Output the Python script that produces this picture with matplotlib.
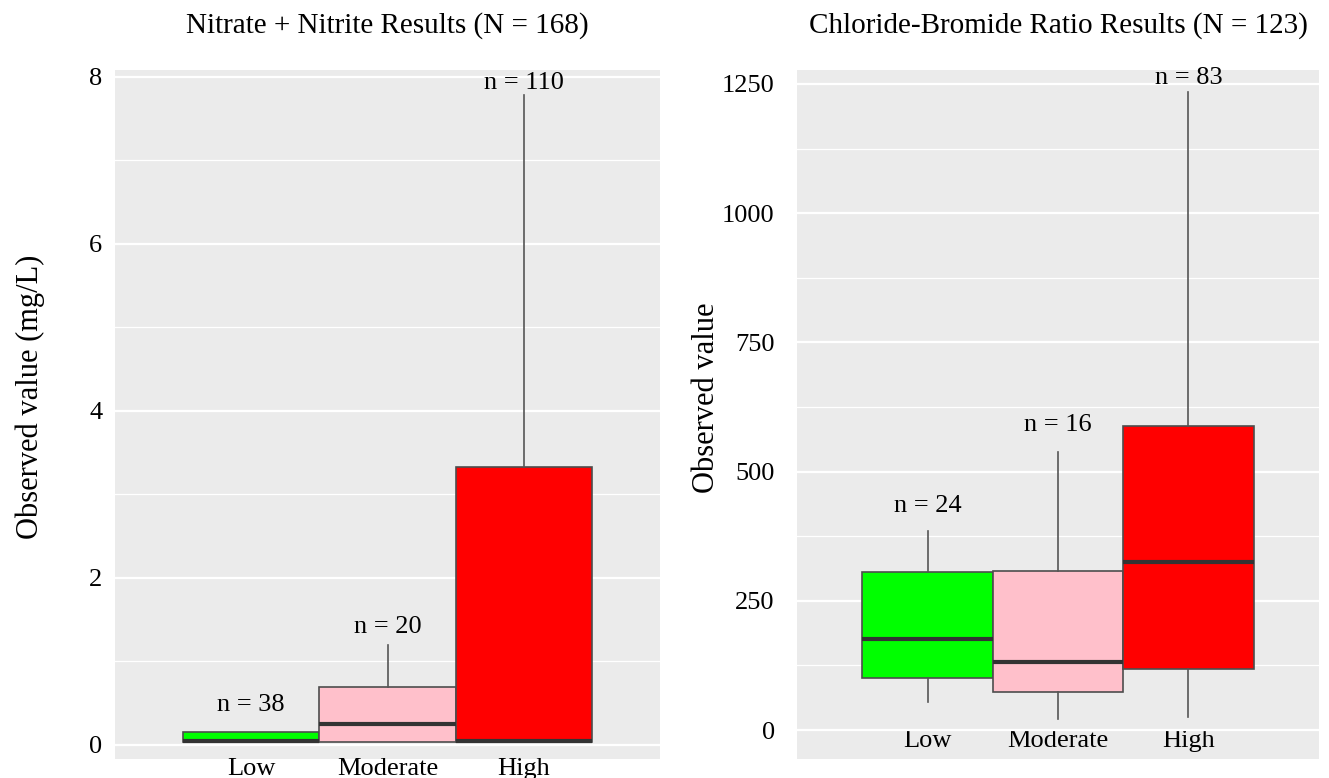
# -*- coding: utf-8 -*-
"""
Box plots of nitrate + nitrite and chloride-bromide ratio by category.
"""

# --IMPORTS---
import matplotlib
matplotlib.use('Agg')
import matplotlib.pyplot as plt
from matplotlib.ticker import MultipleLocator

# --DATA---
categories = ['Low', 'Moderate', 'High']
colors = ['#00ff00', '#ffc0cb', '#ff0000']

# Nitrate + Nitrite (mg/L)
nitrate_n = [38, 20, 110]
nitrate_whislo = [0.03, 0.03, 0.03]
nitrate_q1 = [0.035, 0.035, 0.035]
nitrate_med = [0.04, 0.25, 0.04]
nitrate_q3 = [0.156, 0.69, 3.33]
nitrate_whishi = [0.156, 1.19, 7.78]

# Chloride-Bromide ratio
ratio_n = [24, 16, 83]
ratio_whislo = [54, 21, 25]
ratio_q1 = [100, 74, 118]
ratio_med = [176, 132, 325]
ratio_q3 = [306, 308, 588]
ratio_whishi = [385, 538, 1234]

# --STYLE---
plt.rcParams['font.family'] = ['Liberation Serif', 'DejaVu Serif']
BG = '#ebebeb'
EDGE = '#4d4d4d'


def draw_panel(ax, title, ylabel, n, whislo, q1, med, q3, whishi,
               ylim, major, minor, label_offsets, xpad, ypad, ylabel_x):
    """ Draw one ggplot-like box plot panel. """
    stats = []
    for i, cat in enumerate(categories):
        stats.append(dict(label=cat, whislo=whislo[i], q1=q1[i], med=med[i],
                          q3=q3[i], whishi=whishi[i], fliers=[]))
    positions = [1, 2, 3]
    bp = ax.bxp(stats, positions=positions, widths=1.0, patch_artist=True,
                showcaps=False,
                boxprops=dict(edgecolor=EDGE, linewidth=1.2),
                whiskerprops=dict(color='#555555', linewidth=1.2),
                medianprops=dict(color='#333333', linewidth=3))
    for patch, c in zip(bp['boxes'], colors):
        patch.set_facecolor(c)

    for pos, top, count, off in zip(positions, whishi, n, label_offsets):
        ax.annotate('n = {}'.format(count), xy=(pos, top), xytext=(0, off),
                    textcoords='offset points', ha='center', va='center',
                    fontsize=19)

    ax.set_facecolor(BG)
    ax.set_xlim(0, 4)
    ax.set_ylim(*ylim)
    ax.yaxis.set_major_locator(MultipleLocator(major))
    ax.yaxis.set_minor_locator(MultipleLocator(minor))
    ax.grid(which='major', axis='y', color='white', linewidth=1.6)
    ax.grid(which='minor', axis='y', color='white', linewidth=0.9)
    ax.set_axisbelow(True)
    for s in ax.spines.values():
        s.set_visible(False)
    ax.tick_params(axis='y', which='both', length=0, pad=ypad, labelsize=19)
    ax.tick_params(axis='x', length=0, pad=xpad, labelsize=19)
    ax.set_xticks(positions)
    ax.set_xticklabels(categories)
    ax.set_title(title, fontsize=21, pad=27)
    ax.set_ylabel(ylabel, fontsize=22, va='center')
    ax.yaxis.set_label_coords(ylabel_x, 0.525)


def main():
    fig = plt.figure(figsize=(13.29, 7.78), dpi=100)
    ax1 = fig.add_axes([115 / 1329, 1 - 759 / 778, 545 / 1329, 689 / 778])
    ax2 = fig.add_axes([797 / 1329, 1 - 759 / 778, 522 / 1329, 689 / 778])

    draw_panel(ax1, 'Nitrate + Nitrite Results (N = 168)',
               'Observed value (mg/L)', nitrate_n, nitrate_whislo, nitrate_q1,
               nitrate_med, nitrate_q3, nitrate_whishi,
               ylim=(-0.17, 8.08), major=2, minor=1,
               label_offsets=[19, 13, 9], xpad=-1, ypad=9, ylabel_x=-0.156)

    draw_panel(ax2, 'Chloride-Bromide Ratio Results (N = 123)',
               'Observed value', ratio_n, ratio_whislo, ratio_q1,
               ratio_med, ratio_q3, ratio_whishi,
               ylim=(-56, 1277), major=250, minor=125,
               label_offsets=[18, 19.5, 10], xpad=-21, ypad=16, ylabel_x=-0.174)

    fig.savefig('out.png', dpi=100)


# ---MAIN---
if __name__ == '__main__':
    main()
